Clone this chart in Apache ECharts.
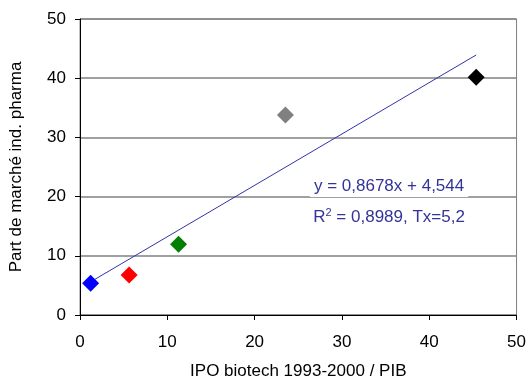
<!DOCTYPE html>
<html><head><meta charset="utf-8">
<script src="https://cdn.jsdelivr.net/npm/echarts@6/dist/echarts.min.js"></script>
<style>html,body{margin:0;padding:0;background:#fff}#c{width:529px;height:385px}</style>
</head><body><div id="c"></div>
<script>
var xValues = [1.22, 5.63, 11.29, 23.53, 45.38];
var yValues = [5.37, 6.76, 11.96, 33.78, 40.15];
var pointColors = ['#0000ff', '#ff0000', '#008000', '#808080', '#000000'];
var slope = 0.8678, intercept = 4.544;
var xTicks = [0, 10, 20, 30, 40, 50];
var yTicks = [0, 10, 20, 30, 40, 50];
var eqLine1 = 'y = 0,8678x + 4,544';
var eqLine2 = ['R', '2', ' = 0,8989, Tx=5,2'];

var font = 'Liberation Sans, Arial, sans-serif';
var chart = echarts.init(document.getElementById('c'));
var xMin = Math.min.apply(null, xValues), xMax = Math.max.apply(null, xValues);
var trend = [[xMin, slope * xMin + intercept], [xMax, slope * xMax + intercept]];
var points = xValues.map(function (x, i) {
  return { value: [x, yValues[i]], itemStyle: { color: pointColors[i], opacity: 1 } };
});
chart.setOption({
  animation: false,
  backgroundColor: '#fff',
  grid: { left: 79, right: 11, top: 19, bottom: 68, show: true, borderColor: '#808080', borderWidth: 1, backgroundColor: 'transparent' },
  xAxis: {
    type: 'value', min: xTicks[0], max: xTicks[xTicks.length - 1], interval: 10,
    name: 'IPO biotech 1993-2000 / PIB', nameLocation: 'middle', nameGap: 48,
    nameTextStyle: { fontFamily: font, fontSize: 17, color: '#000' },
    axisLine: { show: true, lineStyle: { color: '#000', width: 1 } },
    axisTick: { show: true, inside: false, length: 5, lineStyle: { color: '#000' } },
    axisLabel: { fontFamily: font, fontSize: 17, color: '#000', margin: 19 },
    splitLine: { show: false }
  },
  yAxis: {
    type: 'value', min: yTicks[0], max: yTicks[yTicks.length - 1], interval: 10,
    name: 'Part de marché ind. pharma', nameLocation: 'middle', nameGap: 55, nameRotate: 90,
    nameTextStyle: { fontFamily: font, fontSize: 17, color: '#000' },
    axisLine: { show: true, lineStyle: { color: '#000', width: 1 } },
    axisTick: { show: true, inside: false, length: 5, lineStyle: { color: '#000' } },
    axisLabel: { fontFamily: font, fontSize: 17, color: '#000', margin: 14 },
    splitLine: { show: true, lineStyle: { color: '#808080', width: 1.5 } }
  },
  series: [
    {
      type: 'line', data: trend, showSymbol: false, symbol: 'none',
      lineStyle: { color: '#3333aa', width: 1 }, z: 2
    },
    {
      type: 'scatter', data: points, symbol: 'diamond', symbolSize: 17, z: 3
    }
  ]
});
var p1 = chart.convertToPixel({ gridIndex: 0 }, [35.4, 21.7]);
var p2 = chart.convertToPixel({ gridIndex: 0 }, [35.4, 16.6]);
chart.setOption({
  graphic: [
    {
      type: 'text', x: p1[0], y: p1[1], z: 10,
      style: {
        text: eqLine1, font: '17px ' + font, fill: '#333399',
        align: 'center', verticalAlign: 'middle',
        backgroundColor: '#fff', padding: [2, 4]
      }
    },
    {
      type: 'text', x: p2[0], y: p2[1], z: 10,
      style: {
        text: '{a|' + eqLine2[0] + '}{s|' + eqLine2[1] + '}{a|' + eqLine2[2] + '}',
        align: 'center', verticalAlign: 'middle',
        backgroundColor: '#fff', padding: [1, 4],
        rich: {
          a: { fontFamily: font, fontSize: 17, fill: '#333399', color: '#333399', verticalAlign: 'bottom' },
          s: { fontFamily: font, fontSize: 11, fill: '#333399', color: '#333399', verticalAlign: 'top', padding: [0, 0, 8, 0] }
        }
      }
    }
  ]
});
</script></body></html>
